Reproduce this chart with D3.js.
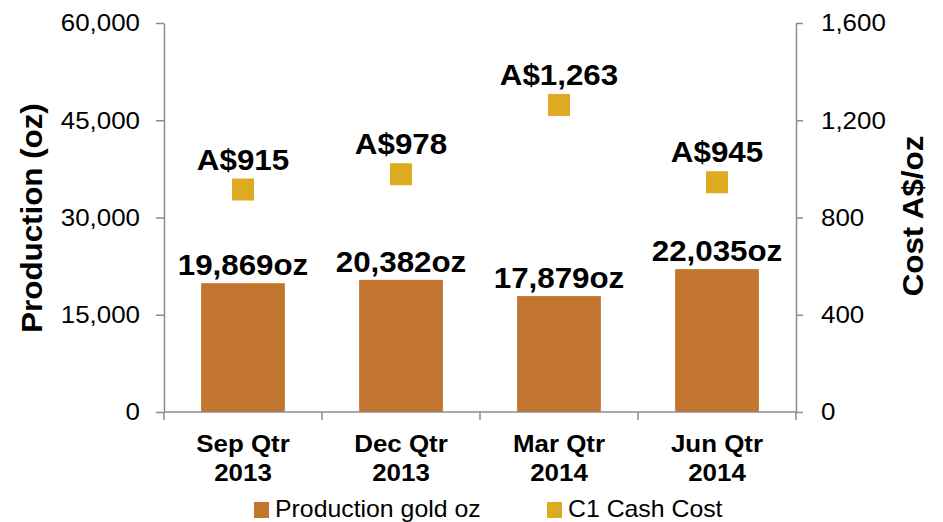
<!DOCTYPE html>
<html>
<head>
<meta charset="utf-8">
<script src="https://cdn.jsdelivr.net/npm/d3@7"></script>
<style>
  body { margin: 0; background: #fff; }
  text { font-family: "Liberation Sans", Arial, Helvetica, sans-serif; fill: #000; }
</style>
</head>
<body>
<script>
'use strict';

// chart values
const quarters = ['Sep Qtr 2013', 'Dec Qtr 2013', 'Mar Qtr 2014', 'Jun Qtr 2014']
const production = [19869, 20382, 17879, 22035]
const cashCost = [915, 978, 1263, 945]
const prodTicks = [0, 15000, 30000, 45000, 60000]
const costTicks = [0, 400, 800, 1200, 1600]
const legendNames = ['Production gold oz', 'C1 Cash Cost']

const m = { width: 943, height: 522, left: 164, right: 796, top: 23, bottom: 412 }
const colors = { bar: '#C2752E', cost: '#DDAA22', axis: '#8c8c8c' }
const S = 1.08 // the source font is a bit wider than Liberation Sans

let svg = d3.select('body')
  .append('svg')
  .attr('width', m.width)
  .attr('height', m.height)

// x scale - one band per quarter
let x = d3.scaleBand()
  .domain(quarters)
  .range([m.left, m.right])
  .paddingInner(0.47)
  .paddingOuter(0.235)
let xMid = function(d) { return x(d) + x.bandwidth() / 2 }

let yLeft = d3.scaleLinear().domain([0, 60000]).range([m.bottom, m.top])
let yRight = d3.scaleLinear().domain([0, 1600]).range([m.bottom, m.top])

// helper for stretched text
function label(sel, px, py, str, size, weight, anchor, rot) {
  let t = 'translate(' + px + ',' + py + ')' + (rot ? 'rotate(' + rot + ')' : '') + 'scale(' + S + ',1)'
  return sel.append('text')
    .attr('transform', t)
    .attr('text-anchor', anchor)
    .style('font-size', size + 'px')
    .style('font-weight', weight)
    .text(str)
}

// left axis
let leftAxis = d3.axisLeft(yLeft).tickValues(prodTicks).tickSize(8).tickSizeOuter(0).tickFormat('')
let gl = svg.append('g').attr('transform', 'translate(' + m.left + ',0)').call(leftAxis)

// right axis
let rightAxis = d3.axisRight(yRight).tickValues(costTicks).tickSize(7).tickSizeOuter(0).tickFormat('')
let gr = svg.append('g').attr('transform', 'translate(' + m.right + ',0)').call(rightAxis)

for (let g of [gl, gr]) {
  g.selectAll('path, line').attr('stroke', colors.axis).attr('stroke-width', 1.5)
}

let fmt = d3.format(',')
prodTicks.forEach((v) => {
  label(svg, 140, yLeft(v), fmt(v), 24, 'normal', 'end').attr('dy', '0.35em')
})
costTicks.forEach((v) => {
  label(svg, 821, yRight(v), fmt(v), 24, 'normal', 'start').attr('dy', '0.35em')
})

// bars
svg.selectAll('rect.bar')
  .data(quarters)
  .enter()
  .append('rect')
    .attr('class', 'bar')
    .attr('x', (d) => x(d))
    .attr('width', x.bandwidth())
    .attr('y', (d, i) => yLeft(production[i]))
    .attr('height', (d, i) => yLeft(0) - yLeft(production[i]))
    .style('fill', colors.bar)

// x axis line and boundary ticks
svg.append('line')
  .attr('x1', m.left).attr('x2', m.right)
  .attr('y1', m.bottom).attr('y2', m.bottom)
  .attr('stroke', colors.axis).attr('stroke-width', 1.5)

let bounds = quarters.map((d) => x(d) - x.step() * 0.235).concat([m.right])
svg.selectAll('line.xtick')
  .data(bounds)
  .enter()
  .append('line')
    .attr('class', 'xtick')
    .attr('x1', (d) => d).attr('x2', (d) => d)
    .attr('y1', m.bottom).attr('y2', m.bottom + 8)
    .attr('stroke', colors.axis).attr('stroke-width', 1.5)

// category labels on two lines
quarters.forEach((q) => {
  let parts = q.split(' ')
  label(svg, xMid(q), 452, parts[0] + ' ' + parts[1], 24, 'bold', 'middle')
  label(svg, xMid(q), 481, parts[2], 24, 'bold', 'middle')
})

// cost markers
const mk = 22
svg.selectAll('rect.cost')
  .data(quarters)
  .enter()
  .append('rect')
    .attr('class', 'cost')
    .attr('x', (d) => xMid(d) - mk / 2)
    .attr('y', (d, i) => yRight(cashCost[i]) - mk / 2)
    .attr('width', mk)
    .attr('height', mk)
    .style('fill', colors.cost)

// data labels
quarters.forEach((q, i) => {
  label(svg, xMid(q), yLeft(production[i]) - 8, fmt(production[i]) + 'oz', 29, 'bold', 'middle')
  label(svg, xMid(q), yRight(cashCost[i]) - mk / 2 - 9, 'A$' + fmt(cashCost[i]), 29, 'bold', 'middle')
})

// axis titles
label(svg, 42, 218, 'Production (oz)', 29, 'bold', 'middle', -90)
label(svg, 923, 216, 'Cost A$/oz', 29, 'bold', 'middle', -90)

// legend
let legendX = [254, 547]
let legendCol = [colors.bar, colors.cost]
legendNames.forEach((n, i) => {
  svg.append('rect')
    .attr('x', legendX[i]).attr('y', 502)
    .attr('width', 15).attr('height', 16)
    .style('fill', legendCol[i])
  label(svg, legendX[i] + 21, 517, n, 23, 'normal', 'start')
})
</script>
</body>
</html>
